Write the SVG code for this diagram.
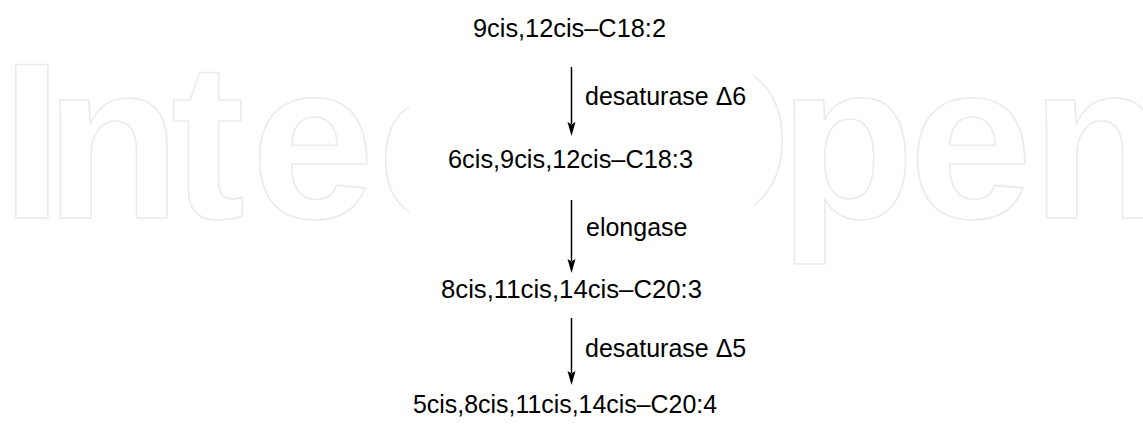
<svg xmlns="http://www.w3.org/2000/svg" width="1143" height="430" viewBox="0 0 1143 430">
  <style>
    .wm { font-family: "Liberation Sans", Arial, sans-serif; font-weight: bold; font-size: 222px; fill: none; stroke: #ebebeb; stroke-width: 1.6; stroke-linejoin: round; }
    .lbl { font-family: "Liberation Sans", Arial, sans-serif; font-size: 25px; fill: #000; }
    .conn { stroke: #000; stroke-width: 1.5; fill: none; }
  </style>
  <defs>
    <marker id="ah" viewBox="0 0 8 14" refX="4" refY="14" markerWidth="8" markerHeight="14" markerUnits="userSpaceOnUse" orient="auto-start-reverse">
      <path d="M0,0 L4,2.5 L8,0 L4,14 Z" fill="#000"/>
    </marker>
  </defs>
  <rect x="0" y="0" width="1143" height="430" fill="#fff"/>
  <g id="watermark">
    <text class="wm" y="218"><tspan x="1">I</tspan><tspan x="45">n</tspan><tspan x="171">t</tspan><tspan x="251">e</tspan><tspan x="377">c</tspan><tspan x="500">h</tspan><tspan x="619">O</tspan><tspan x="779">p</tspan><tspan x="909">e</tspan><tspan x="1031">n</tspan></text>
    <rect x="409" y="0" width="345" height="430" fill="#fff"/>
  </g>
  <g id="connectors">
    <g id="c1"><line class="conn" x1="571.5" y1="67" x2="571.5" y2="124"/><path d="M567.5,122 L571.5,124.5 L575.5,122 L571.5,136 Z" fill="#000"/><text class="lbl" x="585" y="105">desaturase Δ6</text></g>
    <g id="c2"><line class="conn" x1="571.5" y1="200" x2="571.5" y2="261"/><path d="M567.5,259 L571.5,261.5 L575.5,259 L571.5,273 Z" fill="#000"/><text class="lbl" x="586" y="236">elongase</text></g>
    <g id="c3"><line class="conn" x1="571.5" y1="318" x2="571.5" y2="373"/><path d="M567.5,371 L571.5,373.5 L575.5,371 L571.5,385 Z" fill="#000"/><text class="lbl" x="585" y="357">desaturase Δ5</text></g>
  </g>
  <g id="n1"><text class="lbl" x="473" y="37" textLength="193" lengthAdjust="spacingAndGlyphs">9cis,12cis–C18:2</text></g>
  <g id="n2"><text class="lbl" x="448" y="168" textLength="245" lengthAdjust="spacingAndGlyphs">6cis,9cis,12cis–C18:3</text></g>
  <g id="n3"><text class="lbl" x="441" y="298" textLength="261" lengthAdjust="spacingAndGlyphs">8cis,11cis,14cis–C20:3</text></g>
  <g id="n4"><text class="lbl" x="413" y="413" textLength="304" lengthAdjust="spacingAndGlyphs">5cis,8cis,11cis,14cis–C20:4</text></g>
</svg>
